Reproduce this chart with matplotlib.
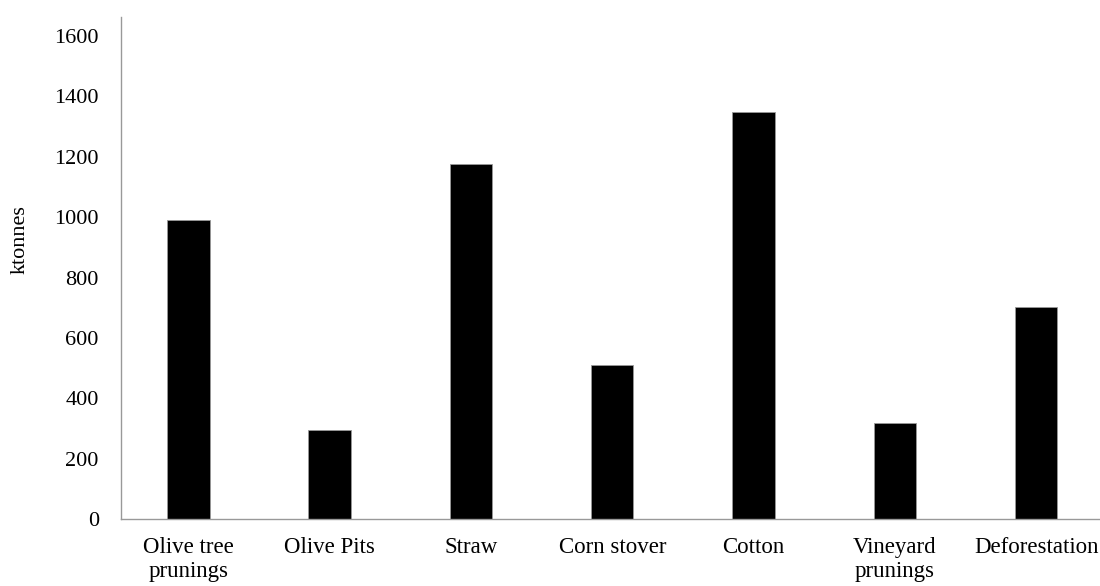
import matplotlib
matplotlib.use('Agg')
import matplotlib.pyplot as plt

# --- DATA ---
categories = ["Olive tree\nprunings", "Olive Pits", "Straw", "Corn stover",
              "Cotton", "Vineyard\nprunings", "Deforestation"]
values = [990, 295, 1176, 510, 1349, 317, 702]
yticks = [0, 200, 400, 600, 800, 1000, 1200, 1400, 1600]

plt.rcParams['font.family'] = ['Liberation Serif', 'DejaVu Serif']

fig = plt.figure(figsize=(11, 5.86), dpi=100)
ax = fig.add_axes([121 / 1100, 1 - 519 / 586, (1100 - 121) / 1100, (519 - 17) / 586])

x = list(range(len(categories)))
ax.bar(x, values, width=0.30, color='black', edgecolor='#999999', linewidth=0.6)

ax.set_xlim(-0.477, 6.452)
ax.set_ylim(0, 1663)
ax.set_yticks(yticks)
ax.set_xticks(x)
ax.set_xticklabels(categories, fontsize=16.5, linespacing=1.2)
ax.tick_params(axis='y', labelsize=16, length=0, pad=16)
ax.tick_params(axis='x', length=0, pad=13)
ax.set_ylabel("ktonnes", fontsize=16)
ax.yaxis.set_label_coords(-0.093, 0.556)

for s in ['top', 'right']:
    ax.spines[s].set_visible(False)
for s in ['left', 'bottom']:
    ax.spines[s].set_color('#999999')
    ax.spines[s].set_linewidth(1.0)

fig.savefig("out.png", dpi=100)
plt.close("all")
